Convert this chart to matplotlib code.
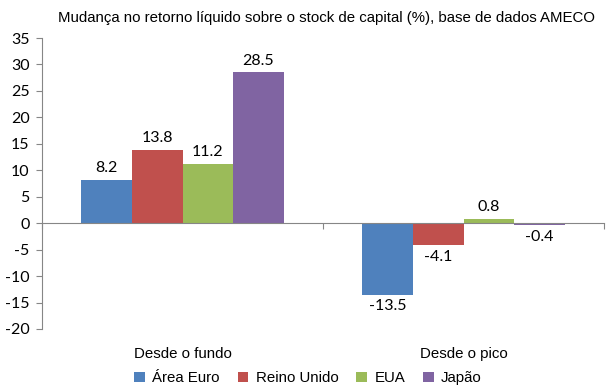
import matplotlib
matplotlib.use("Agg")
import matplotlib.pyplot as plt
import numpy as np

categories = ["Desde o fundo", "Desde o pico"]
series_names = ["Área Euro", "Reino Unido", "EUA", "Japão"]
values = {
    "Área Euro": [8.2, -13.5],
    "Reino Unido": [13.8, -4.1],
    "EUA": [11.2, 0.8],
    "Japão": [28.5, -0.4],
}
colors = ["#4F81BD", "#C0504D", "#9BBB59", "#8064A2"]
yticks = list(range(-20, 40, 5))

fig = plt.figure(figsize=(6.10, 3.92), dpi=100)
ax = fig.add_axes([42/610, 1-329/392, (604-42)/610, (329-38)/392])

x = np.arange(len(categories))
w = 0.18
for i, name in enumerate(series_names):
    pos = x + (i - 1.5) * w
    ax.bar(pos, values[name], w, color=colors[i], label=name, zorder=2)
    for xp, v in zip(pos, values[name]):
        off = 0.9 if v >= 0 else -0.9
        ax.text(xp, v + off, f"{v:.1f}", ha="center", va="bottom" if v >= 0 else "top",
                fontsize=11.5, family="Lato", color="#000000")

ax.set_xlim(-0.5, 1.5)
ax.set_ylim(-20, 35)
ax.set_yticks(yticks)
ax.set_yticklabels([str(t) for t in yticks], fontsize=11.5, family="Lato")
ax.set_xticks([-0.5, 0.5, 1.5])
ax.set_xticklabels([])
ax.spines["bottom"].set_position(("data", 0))
ax.spines["top"].set_visible(False)
ax.spines["right"].set_visible(False)
for s in ["left", "bottom"]:
    ax.spines[s].set_color("#868686")
    ax.spines[s].set_linewidth(0.8)
ax.tick_params(axis="y", length=4, color="#868686", width=0.8, pad=5)
ax.tick_params(axis="x", length=4, color="#868686", width=0.8, direction="out")

for xi, c in zip(x, categories):
    ax.text(xi, -0.085, c, transform=ax.get_xaxis_transform(), ha="center", va="center",
            fontsize=10.8, family="Liberation Sans")

fig.text(0.536, 1-18/392, "Mudança no retorno líquido sobre o stock de capital (%), base de dados AMECO",
         ha="center", va="center", fontsize=10.8, family="Liberation Sans")

fig.legend(loc="center", bbox_to_anchor=(0.505, 1-378/392), ncol=4, frameon=False,
           prop={"family": "Liberation Sans", "size": 10.8}, handlelength=0.7, handleheight=0.7,
           handletextpad=0.5, columnspacing=1.2)

fig.savefig("out.png", dpi=100)
